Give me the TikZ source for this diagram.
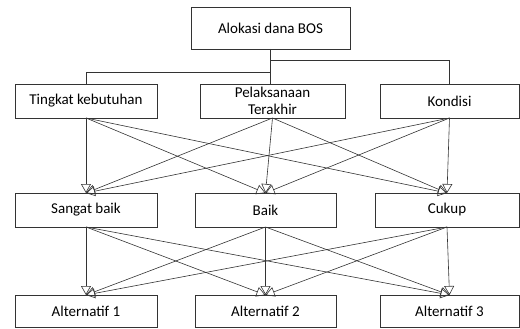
\documentclass[tikz,border=0pt]{standalone}
\usepackage{fontspec}
\setmainfont{Carlito}
\usetikzlibrary{arrows.meta}

\begin{document}
\begin{tikzpicture}[x=1pt, y=-1pt,
        X/.style={draw=black!80, line width=0.8pt, minimum width=142pt, minimum height=34pt,
            inner sep=1pt, align=center, font=\fontsize{15}{15}\selectfont, outer sep=0pt},
        L/.style={draw=black!80, line width=0.6pt},
        A/.style={L, -{Triangle[open, length=9pt, width=10pt]}}
    ]
    \useasboundingbox (0,0) rectangle (520,329);

    \node[X, minimum width=159pt, minimum height=42pt] (alokasi) at (270.5,28) {Alokasi dana BOS};

    \node[X] (tingkat) at (86,101) {Tingkat kebutuhan};
    \node[X, minimum width=145pt] (pelaksanaan) at (272.5,101) {Pelaksanaan\\[2pt]Terakhir};
    \node[X, minimum width=139pt] (kondisi) at (449.5,101) {Kondisi};

    \node[X] (sangat) at (86,210) {Sangat baik};
    \node[X, minimum width=141pt] (baik) at (265.5,210) {Baik};
    \node[X, minimum width=144pt] (cukup) at (447,210) {Cukup};

    \node[X, minimum height=32pt] (alt1) at (86,311) {Alternatif 1};
    \node[X, minimum width=141pt, minimum height=32pt] (alt2) at (265.5,311) {Alternatif 2};
    \node[X, minimum width=139pt, minimum height=32pt] (alt3) at (449.5,311) {Alternatif 3};

    % pohon dari alokasi
    \coordinate (j1) at ([yshift=-11pt]alokasi.south);
    \coordinate (j2) at ([yshift=-23pt]alokasi.south);
    \draw[L] (alokasi.south) -- (alokasi.south |- pelaksanaan.north);
    \draw[L] (j1) -| (kondisi.north);
    \draw[L] (j2) -| (tingkat.north);

    % kriteria -> sub kriteria
    \foreach \s in {tingkat, pelaksanaan, kondisi}{
        \foreach \t in {sangat, baik, cukup}{
            \draw[A] (\s.south) -- (\t.north);
        }
    }

    % sub kriteria -> alternatif
    \foreach \s in {sangat, baik, cukup}{
        \foreach \t in {alt1, alt2, alt3}{
            \draw[A] (\s.south) -- (\t.north);
        }
    }
\end{tikzpicture}
\end{document}
